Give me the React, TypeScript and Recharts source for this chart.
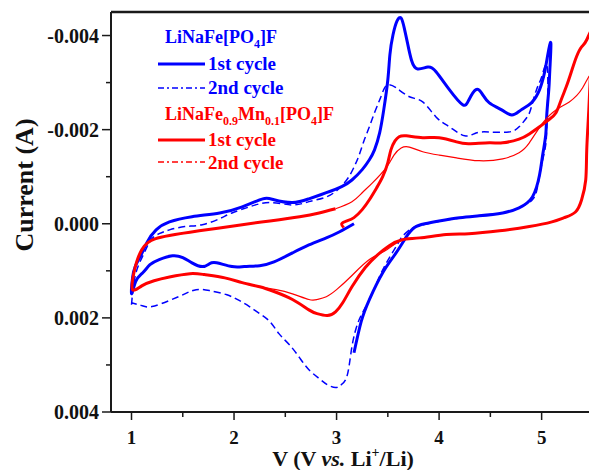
import { LineChart, Line, XAxis, YAxis, ReferenceLine } from "recharts";

// potential (V) and current (A), in sweep order
const blue1V = [3.17, 3.03, 2.9, 2.73, 2.57, 2.39, 2.25, 2.1, 1.98, 1.83, 1.76, 1.69, 1.59, 1.5, 1.4, 1.27, 1.18, 1.11, 1.04, 1.0,
  1.02, 1.08, 1.15, 1.24, 1.37, 1.59, 1.86, 2.08, 2.28, 2.39, 2.57, 2.73, 2.9, 3.05, 3.15, 3.25, 3.32, 3.37, 3.42, 3.46,
  3.5, 3.52, 3.55, 3.59, 3.63, 3.66, 3.69, 3.73, 3.79, 3.89, 3.97, 4.1, 4.23, 4.29, 4.36, 4.42, 4.49, 4.61, 4.71, 4.8,
  4.9, 4.98, 5.03, 5.06, 5.09,
  5.08, 5.07, 5.05, 5.04, 5.01, 4.98, 4.91, 4.78, 4.62, 4.39, 4.2, 4.0, 3.86, 3.76, 3.68, 3.58, 3.45, 3.32, 3.24, 3.17];
const blue1I = [0, 0.00017, 0.0003, 0.00045, 0.00062, 0.00081, 0.00089, 0.00091, 0.00091, 0.00083, 0.00085, 0.00091, 0.00083, 0.00072, 0.00068, 0.00076, 0.00087, 0.00104, 0.00123, 0.00148,
  0.00102, 0.00072, 0.0004, 0.00013, -0.00004, -0.00015, -0.00023, -0.00036, -0.00053, -0.00051, -0.00045, -0.00053, -0.00066, -0.00079, -0.00093, -0.00115, -0.00136, -0.00157, -0.00193, -0.00242,
  -0.00306, -0.00359, -0.00401, -0.00431, -0.00437, -0.00416, -0.00386, -0.00348, -0.00329, -0.00333, -0.00323, -0.00285, -0.00253, -0.00263, -0.00285, -0.00276, -0.00257, -0.00242, -0.00231, -0.00242,
  -0.00257, -0.00285, -0.00323, -0.00359, -0.00384,
  -0.00327, -0.00285, -0.00231, -0.00189, -0.00146, -0.00104, -0.00057, -0.00034, -0.00023, -0.00017, -0.00013, -0.00006, 0, 0.00008, 0.00028, 0.00062, 0.00104, 0.00161, 0.00208, 0.00274];

const blue2V = [1.0, 1.02, 1.06, 1.13, 1.19, 1.27, 1.37, 1.52, 1.69, 1.86, 1.98, 2.15, 2.35, 2.57, 2.73, 2.9, 3.03, 3.12, 3.18, 3.22,
  3.27, 3.32, 3.37, 3.42, 3.46, 3.5, 3.58, 3.71, 3.84, 3.97, 4.1, 4.25, 4.36, 4.49, 4.68, 4.78, 4.86, 4.9, 4.95, 5.0, 5.05,
  5.06, 5.05, 5.04, 5.0, 4.96, 4.91, 4.78, 4.62, 4.39, 4.07, 3.81, 3.71, 3.63, 3.58, 3.45, 3.32, 3.22, 3.15, 3.1, 3.03,
  2.99, 2.91, 2.83, 2.73, 2.64, 2.54, 2.44, 2.35, 2.25, 2.15, 2.05, 1.93, 1.76, 1.63, 1.52, 1.37, 1.2, 1.1, 1.0];
const blue2I = [0.00172, 0.0013, 0.00093, 0.00059, 0.00034, 0.00021, 0.00013, 0.00006, 0.00002, -0.00011, -0.00023, -0.00036, -0.00045, -0.0004, -0.00047, -0.00057, -0.00076, -0.001, -0.00125, -0.00146,
  -0.00178, -0.00206, -0.00236, -0.00263, -0.00285, -0.00295, -0.00289, -0.0027, -0.00259, -0.00227, -0.00206, -0.00187, -0.00193, -0.00195, -0.00195, -0.00206, -0.00227, -0.00248, -0.00285, -0.00312, -0.00338,
  -0.00274, -0.0021, -0.00168, -0.00125, -0.00079, -0.00051, -0.00034, -0.00023, -0.00017, -0.00008, 0.00004, 0.00013, 0.0003, 0.00049, 0.00098, 0.00161, 0.00204, 0.00261, 0.00325, 0.00344,
  0.00348, 0.00342, 0.00329, 0.0031, 0.00285, 0.00257, 0.00234, 0.00208, 0.00191, 0.00176, 0.00163, 0.00151, 0.00142, 0.0014, 0.00149, 0.00163, 0.00176, 0.00174, 0.00168];

const red1V = [3.07, 3.05, 3.1, 3.17, 3.25, 3.32, 3.39, 3.45, 3.5, 3.53, 3.57, 3.61, 3.68, 3.84, 4.0, 4.17, 4.29, 4.49, 4.62, 4.78,
  4.88, 4.98, 5.07, 5.14, 5.19, 5.24, 5.29, 5.34, 5.39, 5.44, 5.5,
  5.48, 5.46, 5.44, 5.43, 5.39, 5.33, 5.22, 5.1, 4.88, 4.59, 4.29, 4.07, 3.81, 3.64, 3.51, 3.4, 3.28, 3.15, 3.06, 2.99,
  2.91, 2.81, 2.73, 2.57, 2.39, 2.25, 2.08, 1.91, 1.71, 1.57, 1.37, 1.22, 1.1, 1.01,
  1.02, 1.05, 1.1, 1.16, 1.23, 1.37, 1.66, 2.08, 2.35, 2.64, 2.83, 2.99];
const red1I = [0.00008, 0, -0.00006, -0.00013, -0.0003, -0.00051, -0.00076, -0.001, -0.0013, -0.00157, -0.00176, -0.00185, -0.00187, -0.00183, -0.00183, -0.00174, -0.0017, -0.00172, -0.00172, -0.0018,
  -0.00191, -0.00206, -0.00221, -0.00236, -0.00263, -0.00291, -0.00323, -0.00355, -0.00376, -0.00391, -0.0041,
  -0.00327, -0.00242, -0.00157, -0.00093, -0.00051, -0.00025, -0.00013, -0.00004, 0.00006, 0.00015, 0.00021, 0.00023, 0.0003, 0.00034, 0.00047, 0.00066, 0.00093, 0.00134, 0.00168, 0.00187,
  0.00195, 0.00191, 0.00183, 0.00161, 0.00144, 0.00134, 0.00125, 0.00115, 0.00108, 0.00106, 0.00113, 0.00121, 0.00132, 0.0014,
  0.00108, 0.00081, 0.00055, 0.0004, 0.00032, 0.00025, 0.00015, 0.00002, -0.00006, -0.00015, -0.00023, -0.00032];

const red2V = [2.99, 3.15, 3.25, 3.35, 3.49, 3.56, 3.63, 3.71, 3.84, 4.0, 4.17, 4.39, 4.62, 4.78, 4.88, 5.01, 5.14, 5.27, 5.4, 5.48,
  5.46, 5.44, 5.43, 5.39, 5.33, 5.22, 5.1, 4.88, 4.59, 4.29, 4.07, 3.81, 3.64, 3.49, 3.32, 3.15, 3.0, 2.9, 2.81, 2.73,
  2.57, 2.41, 2.25, 2.08, 1.91, 1.71, 1.57, 1.37, 1.22, 1.1, 1.01,
  1.02, 1.05, 1.1, 1.16, 1.23, 1.37, 1.66, 2.08, 2.35, 2.64];
const red2I = [-0.00032, -0.00047, -0.00066, -0.00087, -0.00121, -0.00146, -0.00161, -0.00163, -0.00153, -0.00146, -0.0014, -0.00134, -0.00138, -0.00151, -0.00172, -0.00214, -0.00242, -0.00259, -0.00289, -0.00314,
  -0.00242, -0.00157, -0.00093, -0.00051, -0.00025, -0.00013, -0.00004, 0.00006, 0.00015, 0.00021, 0.00023, 0.0003, 0.00034, 0.00055, 0.00076, 0.0011, 0.0014, 0.00155, 0.00161, 0.00161,
  0.00149, 0.0014, 0.00134, 0.00125, 0.00115, 0.00108, 0.00106, 0.00113, 0.00121, 0.00132, 0.0014,
  0.00108, 0.00081, 0.00055, 0.0004, 0.00032, 0.00025, 0.00015, 0.00002, -0.00006, -0.00015];

const xTicks = [1, 1.5, 2, 2.5, 3, 3.5, 4, 4.5, 5, 5.5];
const xLabeled = [1, 2, 3, 4, 5];
const yTicks = [-0.004, -0.003, -0.002, -0.001, 0, 0.001, 0.002, 0.003, 0.004];
const yLabeled = [-0.004, -0.002, 0, 0.002, 0.004];

const rows = (v: number[], i: number[]) => v.map((x, k) => ({ v: x, i: i[k] }));

const FONT = "'Liberation Serif', 'Times New Roman', serif";
const AXIS = "#1a1a1a";
const BLUE = "#0000ff";
const RED = "#ff0000";

const XTick = ({ x, y, payload }: any) => {
  const major = xLabeled.includes(payload.value);
  return (
    <g>
      <line x1={x} x2={x} y1={y} y2={y + (major ? 8 : 5)} stroke={AXIS} strokeWidth={1.5} />
      {major && (
        <text x={x} y={y + 32} textAnchor="middle" fontFamily={FONT} fontWeight="bold" fontSize={19} fill="#111">
          {payload.value}
        </text>
      )}
    </g>
  );
};

const YTick = ({ x, y, payload }: any) => {
  const major = yLabeled.includes(payload.value);
  return (
    <g>
      <line x1={x - (major ? 9 : 5)} x2={x} y1={y} y2={y} stroke={AXIS} strokeWidth={1.5} />
      {major && (
        <text x={x - 12} y={y + 7} textAnchor="end" fontFamily={FONT} fontWeight="bold" fontSize={20} fill="#111">
          {payload.value.toFixed(3)}
        </text>
      )}
    </g>
  );
};

const Legend = () => (
  <svg width={589} height={462} style={{ position: "absolute", left: 0, top: 0, pointerEvents: "none" }}>
    <g fontFamily={FONT} fontWeight="bold">
      <text x={157} y={35} fontSize={18} fill={BLUE}>
        LiNaFe[PO<tspan fontSize={12} dy={5}>4</tspan><tspan dy={-5}>]F</tspan>
      </text>
      <line x1={150} x2={197} y1={56} y2={56} stroke={BLUE} strokeWidth={3} />
      <text x={200} y={62} fontSize={19} fill={BLUE}>1st cycle</text>
      <line x1={150} x2={197} y1={80} y2={80} stroke={BLUE} strokeWidth={1.5} strokeDasharray="6 3 2 3" />
      <text x={200} y={86} fontSize={19} fill={BLUE}>2nd cycle</text>

      <text x={157} y={112} fontSize={18} fill={RED}>
        LiNaFe<tspan fontSize={12} dy={5}>0.9</tspan><tspan dy={-5}>Mn</tspan>
        <tspan fontSize={12} dy={5}>0.1</tspan><tspan dy={-5}>[PO</tspan>
        <tspan fontSize={12} dy={5}>4</tspan><tspan dy={-5}>]F</tspan>
      </text>
      <line x1={150} x2={197} y1={132} y2={132} stroke={RED} strokeWidth={3} />
      <text x={200} y={138} fontSize={19} fill={RED}>1st cycle</text>
      <line x1={150} x2={197} y1={154} y2={154} stroke={RED} strokeWidth={1.5} strokeDasharray="6 3 2 3" />
      <text x={200} y={161} fontSize={19} fill={RED}>2nd cycle</text>

      <text x={25} y={177} fontSize={26} fill="#111" textAnchor="middle" transform="rotate(-90 25 177)">
        Current (A)
      </text>
      <text x={335} y={458} fontSize={22} fill="#111" textAnchor="middle">
        V (V <tspan fontStyle="italic">vs.</tspan> Li<tspan fontSize={14} dy={-9}>+</tspan>
        <tspan dy={9}>/Li)</tspan>
      </text>
    </g>
  </svg>
);

export default function App() {
  return (
    <div style={{ position: "relative", width: 589, height: 462 }}>
      <LineChart width={589} height={462} margin={{ top: 4, right: 0, left: 0, bottom: 28 }}>
        <XAxis
          type="number"
          dataKey="v"
          domain={[0.8, 5.54]}
          allowDataOverflow
          ticks={xTicks}
          interval={0}
          height={30}
          tickSize={0}
          tickMargin={0}
          tickLine={false}
          tick={<XTick />}
          axisLine={{ stroke: AXIS, strokeWidth: 2 }}
        />
        <YAxis
          type="number"
          dataKey="i"
          reversed
          domain={[-0.0045, 0.004]}
          allowDataOverflow
          ticks={yTicks}
          interval={0}
          width={103}
          tickSize={0}
          tickMargin={0}
          tickLine={false}
          tick={<YTick />}
          axisLine={{ stroke: AXIS, strokeWidth: 2 }}
        />
        <ReferenceLine y={-0.0045} stroke={AXIS} strokeWidth={2.5} />
        <Line data={rows(blue2V, blue2I)} dataKey="i" type="natural" stroke={BLUE} strokeWidth={1.5} strokeDasharray="7 4" dot={false} activeDot={false} isAnimationActive={false} />
        <Line data={rows(blue1V, blue1I)} dataKey="i" type="natural" stroke={BLUE} strokeWidth={3} dot={false} activeDot={false} isAnimationActive={false} />
        <Line data={rows(red2V, red2I)} dataKey="i" type="natural" stroke={RED} strokeWidth={1.2} dot={false} activeDot={false} isAnimationActive={false} />
        <Line data={rows(red1V, red1I)} dataKey="i" type="natural" stroke={RED} strokeWidth={3} dot={false} activeDot={false} isAnimationActive={false} />
      </LineChart>
      <Legend />
    </div>
  );
}
